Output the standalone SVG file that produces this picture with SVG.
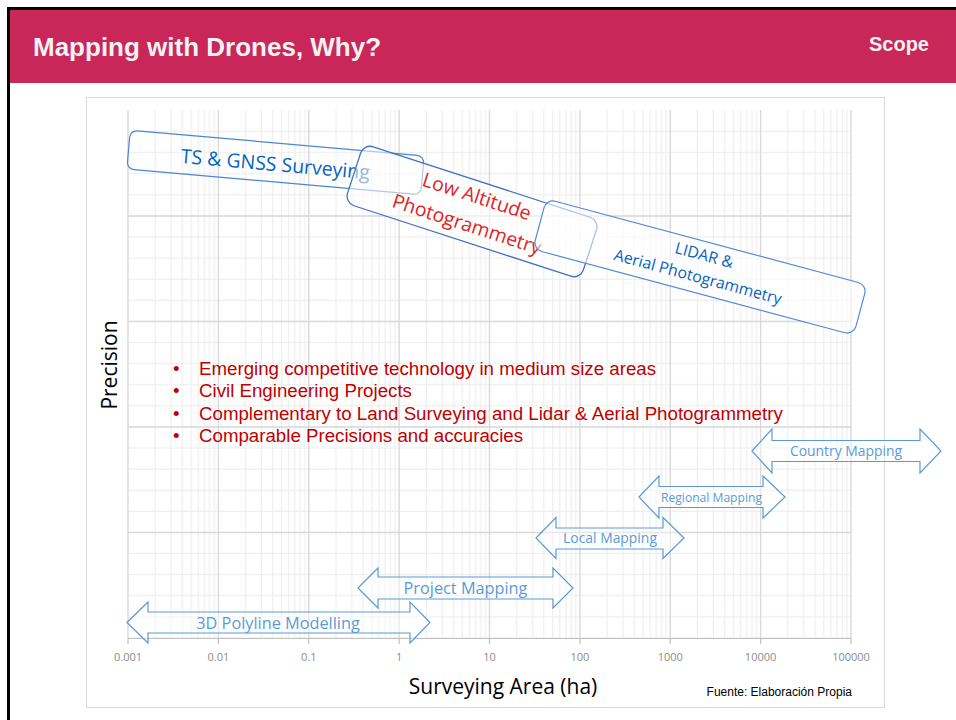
<svg xmlns="http://www.w3.org/2000/svg" width="956" height="720" viewBox="0 0 956 720">
  <style>
    .title { font-family: "Liberation Sans", Arial, sans-serif; font-weight: bold; fill: #F2F2F2; }
    .tick { font-family: "Open Sans", sans-serif; font-size: 11px; fill: #8C8C8C; text-anchor: middle; }
    .axis { font-family: "Open Sans", sans-serif; font-size: 21px; fill: #000; text-anchor: middle; }
    .bullet { font-family: "Liberation Sans", Arial, sans-serif; font-size: 18.7px; fill: #C00000; }
    .band { fill: none; stroke-width: 1.2; }
    .bandText { font-family: "Open Sans", sans-serif; text-anchor: middle; }
    .arrow { fill: #FFFFFF; fill-opacity: 0.4; stroke: #5B9BD5; stroke-width: 1.2; stroke-linejoin: miter; }
    .arrowText { font-family: "Open Sans", sans-serif; fill: #5B9BD5; text-anchor: middle; }
    .major { stroke: #D9D9D9; stroke-width: 1.4; fill: none; }
  </style>
  <defs>
    <!-- log-scale minor verticals (2..9 within each decade) -->
    <pattern id="minorV" x="128" y="0" width="90.375" height="720" patternUnits="userSpaceOnUse">
      <path d="M27.21 0V720M43.12 0V720M54.41 0V720M63.17 0V720M70.33 0V720M76.38 0V720M81.62 0V720M86.24 0V720" stroke="#EEEEEE" stroke-width="1.2"/>
    </pattern>
    <!-- linear minor horizontals -->
    <pattern id="minorH" x="0" y="100.45" width="956" height="21.1" patternUnits="userSpaceOnUse">
      <path d="M0 10H956" stroke="#EEEEEE" stroke-width="1.2"/>
    </pattern>
  </defs>

  <!-- slide frame and header -->
  <rect x="0" y="0" width="956" height="720" fill="#FFFFFF"/>
  <rect x="7" y="7" width="949" height="3" fill="#000000"/>
  <rect x="7" y="7" width="3" height="713" fill="#000000"/>
  <rect x="10" y="10" width="946" height="73" fill="#C92659"/>
  <text class="title" x="33" y="55.5" font-size="26">Mapping with Drones, Why?</text>
  <text class="title" x="929" y="51" font-size="20" text-anchor="end">Scope</text>

  <!-- chart panel -->
  <rect x="86.5" y="97.5" width="798" height="610" fill="#FFFFFF" stroke="#D9D9D9" stroke-width="1"/>

  <!-- grid -->
  <g id="grid">
    <rect x="128" y="110" width="723" height="528" fill="url(#minorV)"/>
    <rect x="128" y="112" width="723" height="526" fill="url(#minorH)"/>
    <path class="major" d="M128 110V638.5M218.4 110V638.5M308.75 110V638.5M399.1 110V638.5M489.5 110V638.5M579.9 110V638.5M670.25 110V638.5M760.6 110V638.5M851 110V638.5"/>
    <path class="major" d="M128 216H851M128 321.5H851M128 427H851M128 532.5H851"/>
    <path d="M128 638.5H851M128 638.5V644M218.4 638.5V644M308.75 638.5V644M399.1 638.5V644M489.5 638.5V644M579.9 638.5V644M670.25 638.5V644M760.6 638.5V644M851 638.5V644" stroke="#BFBFBF" stroke-width="1.2" fill="none"/>
  </g>

  <!-- axis labels -->
  <g id="xTicks">
    <text class="tick" x="128" y="661">0.001</text>
    <text class="tick" x="218.4" y="661">0.01</text>
    <text class="tick" x="308.75" y="661">0.1</text>
    <text class="tick" x="399.1" y="661">1</text>
    <text class="tick" x="489.5" y="661">10</text>
    <text class="tick" x="579.9" y="661">100</text>
    <text class="tick" x="670.25" y="661">1000</text>
    <text class="tick" x="760.6" y="661">10000</text>
    <text class="tick" x="851" y="661">100000</text>
  </g>
  <text class="axis" x="503" y="693.5">Surveying Area (ha)</text>
  <text class="axis" transform="translate(116.5,365) rotate(-90)" x="0" y="0">Precision</text>
  <text x="852" y="696" font-family="Liberation Sans, Arial, sans-serif" font-size="12" fill="#000" text-anchor="end">Fuente: Elaboración Propia</text>

  <!-- technique bands -->
  <g id="ts-gnss" transform="translate(275.5,162.5) rotate(5)">
    <rect class="band" x="-147.5" y="-19.5" width="295" height="39" rx="7" stroke="#4A86D0"/>
    <text class="bandText" x="0" y="8.5" font-size="19.5" fill="#0563C1">TS &amp; GNSS Surveying</text>
  </g>
  <g id="low-altitude" transform="translate(472,211.5) rotate(18)">
    <rect x="-124" y="-31" width="248" height="62" rx="10" fill="#FFFFFF" fill-opacity="0.55" stroke="#4472C4" stroke-width="1.3"/>
    <text class="bandText" x="0" y="-9" font-size="19.5" fill="#E02424">Low Altitude</text>
    <text class="bandText" x="-1" y="20.5" font-size="19.5" fill="#E02424">Photogrammetry</text>
  </g>
  <g id="lidar-aerial" transform="translate(700,267) rotate(15)">
    <rect x="-166" y="-26" width="332" height="52" rx="9" fill="#FFFFFF" fill-opacity="0.55" stroke="#4F8BD6" stroke-width="1.2"/>
    <text class="bandText" x="1" y="-7" font-size="15.9" fill="#0563C1">LIDAR &amp;</text>
    <text class="bandText" x="0.5" y="15.5" font-size="15.9" fill="#0563C1">Aerial Photogrammetry</text>
  </g>

  <!-- notes -->
  <g id="notes">
    <text class="bullet" x="173" y="374.5">•</text>
    <text class="bullet" x="199" y="374.5">Emerging competitive technology in medium size areas</text>
    <text class="bullet" x="173" y="397">•</text>
    <text class="bullet" x="199" y="397">Civil Engineering Projects</text>
    <text class="bullet" x="173" y="419.5">•</text>
    <text class="bullet" x="199" y="419.5">Complementary to Land Surveying and Lidar &amp; Aerial Photogrammetry</text>
    <text class="bullet" x="173" y="442">•</text>
    <text class="bullet" x="199" y="442">Comparable Precisions and accuracies</text>
  </g>

  <!-- scale ranges -->
  <g id="polyline-3d">
    <polygon class="arrow" points="127,622.5 148,602 148,612 410,612 410,602 430,622.5 410,643 410,633 148,633 148,643"/>
    <text class="arrowText" x="278" y="628.5" font-size="16.3">3D Polyline Modelling</text>
  </g>
  <g id="project-mapping">
    <polygon class="arrow" points="358,588 378,568 378,577 553,577 553,568 573,588 553,608 553,599 378,599 378,608"/>
    <text class="arrowText" x="465.5" y="594" font-size="16.3">Project Mapping</text>
  </g>
  <g id="local-mapping">
    <polygon class="arrow" points="536,538 556,517.5 556,528 663,528 663,517.5 684,538 663,558.5 663,549 556,549 556,558.5"/>
    <text class="arrowText" x="610" y="543" font-size="13.9">Local Mapping</text>
  </g>
  <g id="regional-mapping">
    <polygon class="arrow" points="639,497 659,476 659,486.5 763,486.5 763,476 785,497 763,518 763,507.5 659,507.5 659,518"/>
    <text class="arrowText" x="711.5" y="501.5" font-size="12.1">Regional Mapping</text>
  </g>
  <g id="country-mapping">
    <polygon class="arrow" points="752,451 772,429 772,440.5 920,440.5 920,429 941,451 920,473 920,461.5 772,461.5 772,473"/>
    <text class="arrowText" x="846" y="456" font-size="13.9">Country Mapping</text>
  </g>
</svg>
